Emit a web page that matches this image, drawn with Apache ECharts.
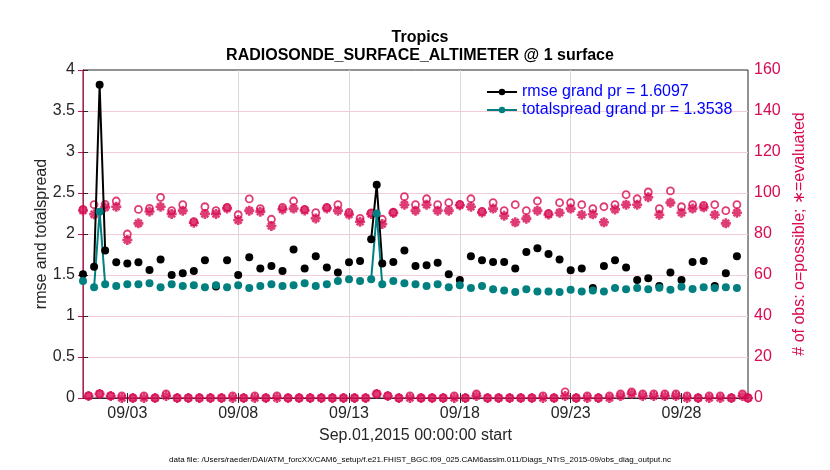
<!DOCTYPE html>
<html>
<head>
<meta charset="utf-8">
<script src="https://cdn.jsdelivr.net/npm/echarts@6/dist/echarts.min.js"></script>
<style>html,body{margin:0;padding:0;background:#fff}#c{width:830px;height:470px}</style>
</head>
<body>
<div id="c"></div>
<script>
// hours since 2015-09-01 00:00 (6-hourly bins)
const hours = [
  0,6,12,18, 24,30,36,42, 48,54,60,66, 72,78,84,90, 96,102,108,114,
  120,126,132,138, 144,150,156,162, 168,174,180,186, 192,198,204,210, 216,222,228,234,
  240,246,252,258, 264,270,276,282, 288,294,300,306, 312,318,324,330, 336,342,348,354,
  360,366,372,378, 384,390,396,402, 408,414,420,426, 432,438,444,450, 456,462,468,474,
  480,486,492,498, 504,510,516,522, 528,534,540,546, 552,558,564,570, 576,582,588,594,
  600,606,612,618, 624,630,636,642, 648,654,660,666, 672,678,684,690, 696,702,708,714,
  720
];
const rmse = [
  1.51,null,1.60,3.82, 1.80,null,1.655,null, 1.64,null,1.655,null, 1.56,null,1.69,null, 1.50,null,1.52,null,
  1.55,null,1.68,null, 1.36,null,1.68,null, 1.50,null,1.715,null, 1.58,null,1.61,null, 1.55,null,1.81,null,
  1.58,null,1.73,null, 1.59,null,1.53,null, 1.655,null,1.67,null, 1.935,2.60,1.64,null, 1.66,null,1.80,null,
  1.61,null,1.62,null, 1.65,null,1.51,null, 1.44,null,1.73,null, 1.68,null,1.66,null, 1.66,null,1.58,null,
  1.78,null,1.825,null, 1.756,null,1.69,null, 1.557,null,1.58,null, 1.34,null,1.61,null, 1.68,null,1.59,null,
  1.44,null,1.46,null, 1.366,null,1.53,null, 1.44,null,1.66,null, 1.67,null,1.366,null, 1.52,null,1.73,null,
  null
];
const totalspread = [
  1.427,null,1.35,2.27, 1.386,null,1.366,null, 1.386,null,1.386,null, 1.40,null,1.35,null, 1.386,null,1.366,null,
  1.375,null,1.35,null, 1.375,null,1.35,null, 1.375,null,1.34,null, 1.366,null,1.386,null, 1.366,null,1.375,null,
  1.40,null,1.366,null, 1.386,null,1.427,null, 1.447,null,1.427,null, 1.447,2.25,1.386,null, 1.427,null,1.40,null,
  1.386,null,1.366,null, 1.386,null,1.35,null, 1.375,null,1.34,null, 1.366,null,1.325,null, 1.31,null,1.293,null,
  1.325,null,1.30,null, 1.30,null,1.293,null, 1.32,null,1.30,null, 1.31,null,1.30,null, 1.34,null,1.325,null,
  1.34,null,1.325,null, 1.345,null,1.32,null, 1.357,null,1.33,null, 1.35,null,1.34,null, 1.35,null,1.34,null,
  null
];
const obsPossible = [
  92,1,94.3,2, 94.5,1,96.1,1, 80,0,92,1, 92.5,0,97.9,2, 91.4,0,94.3,0,
  86,0,93.3,0, 91.4,0,93,1, 89.4,0,97.1,1, 92.4,0,87.2,1, 93,0,96.1,0,
  92,0,90.4,0, 93,0,94.3,0, 90.5,0,87.6,0, 90.3,2,87.2,1, 90.6,0,98.2,1,
  94.3,0,97.2,0, 94.3,0,95.3,1, 94.5,0,97.2,2, 91,0,95.3,0, 91.4,0,94.3,0,
  91.4,0,96.1,1, 90,0,95.3,3, 95.3,0,94.3,1, 92.4,0,93.3,1, 94.3,2,99.2,3,
  97.2,2,100.5,2, 92.4,2,101,2, 93.3,1,94.3,0, 94,1,94.3,1, 91.4,0,94.3,2,
  0
];
const obsEvaluated = [
  91.5,1,89.6,2, 93,1,93.3,0, 77.1,0,85.2,0, 91,0,93.3,1, 89.8,0,91.4,0,
  85.5,0,89.8,0, 89.8,0,92.5,0, 86.8,0,91.4,0, 90.9,0,83.9,0, 92,0,92.4,0,
  91.5,0,87.6,0, 92.5,0,91.4,0, 89.5,0,86,0, 89.8,2,84.9,1, 90.3,0,94.3,0,
  91.4,0,94.3,0, 91.4,0,91.4,0, 94,0,93.3,1, 90.5,0,92.4,0, 88.9,0,85.7,0,
  87.5,0,91.4,0, 89.5,0,90.4,1, 92.4,0,89.4,0, 89.6,0,85.7,0, 92,1,94.3,2,
  94.3,1,97.9,1, 89.4,1,95.3,1, 90.4,0,92.4,0, 93,0,89.4,0, 85.2,0,90.4,1,
  0
];
const tickHours = [48, 168, 288, 408, 528, 648];
const tickLabels = ['09/03', '09/08', '09/13', '09/18', '09/23', '09/28'];
const legendNames = ['rmse grand pr = 1.6097', 'totalspread grand pr = 1.3538'];
const titleText = 'Tropics\nRADIOSONDE_SURFACE_ALTIMETER @ 1 surface';
const xName = 'Sep.01,2015 00:00:00 start';
const yLeftName = 'rmse and totalspread';
const yRightName = '# of obs: o=possible; \u2217=evaluated';
const fileText = 'data file: /Users/raeder/DAI/ATM_forcXX/CAM6_setup/f.e21.FHIST_BGC.f09_025.CAM6assim.011/Diags_NTrS_2015-09/obs_diag_output.nc';

const FONT = '"Liberation Sans", Arial, Helvetica, sans-serif';
const MAG = '#D70A53';
const TEAL = '#008080';
const DARK = '#262626';
const zip = (arr) => hours.map((h, i) => [h, arr[i]]);
const ASTER = 'path://M5,0L5,10M0,5L10,5M1.6,1.6L8.4,8.4M1.6,8.4L8.4,1.6';

const chart = echarts.init(document.getElementById('c'), null, {renderer: 'canvas'});
chart.setOption({
  animation: false,
  backgroundColor: '#fff',
  textStyle: {fontFamily: FONT},
  title: [
    {text: titleText, left: 415, top: 24, textAlign: 'center',
     textStyle: {fontFamily: FONT, fontSize: 16, fontWeight: 'bold', color: '#000', lineHeight: 18}},
    {text: fileText, left: 415, top: 451, textAlign: 'center',
     textStyle: {fontFamily: FONT, fontSize: 8, fontWeight: 'normal', color: '#000'}}
  ],
  grid: {left: 83, right: 82, top: 70, bottom: 72, show: true, borderColor: DARK, borderWidth: 1, backgroundColor: '#fff'},
  legend: {
    data: legendNames, left: 481, top: 79, orient: 'vertical', itemWidth: 30, itemHeight: 8, itemGap: 2,
    textStyle: {color: '#0000FF', fontSize: 16, fontFamily: FONT, lineHeight: 16}
  },
  xAxis: [
    {type: 'value', min: 0, max: 720, position: 'bottom',
     name: xName, nameLocation: 'middle', nameGap: 30,
     nameTextStyle: {fontSize: 16, color: DARK, fontFamily: FONT},
     axisLine: {show: true, lineStyle: {color: DARK, width: 1}},
     axisTick: {show: true, inside: true, length: 5, customValues: tickHours, lineStyle: {color: DARK}},
     axisLabel: {show: true, customValues: tickHours, margin: 8, fontSize: 16, color: DARK, fontFamily: FONT,
       formatter: (v) => tickLabels[tickHours.indexOf(v)] || ''},
     splitLine: {show: true, showMinLine: false, showMaxLine: false, lineStyle: {color: '#D9D9D9', width: 1}}},
    {type: 'value', min: 0, max: 720, position: 'top',
     axisLine: {show: true, lineStyle: {color: DARK, width: 1}},
     axisTick: {show: true, inside: true, length: 5, customValues: tickHours, lineStyle: {color: DARK}},
     axisLabel: {show: false}, splitLine: {show: false}}
  ],
  yAxis: [
    {type: 'value', min: 0, max: 4, interval: 0.5, position: 'left',
     name: yLeftName, nameLocation: 'middle', nameGap: 33, nameRotate: 90, nameMoveOverlap: false,
     nameTextStyle: {fontSize: 16, color: DARK, fontFamily: FONT},
     axisLine: {show: true, lineStyle: {color: DARK}},
     axisTick: {show: true, inside: true, length: 5, lineStyle: {color: DARK}},
     axisLabel: {fontSize: 16, color: DARK, margin: 8, fontFamily: FONT},
     splitLine: {show: false}},
    {type: 'value', min: 0, max: 160, interval: 20, position: 'right',
     name: yRightName, nameLocation: 'middle', nameGap: 38, nameRotate: 90,
     nameTextStyle: {fontSize: 16, color: MAG, fontFamily: FONT},
     axisLine: {show: true, lineStyle: {color: MAG}},
     axisTick: {show: true, inside: true, length: 5, lineStyle: {color: MAG}},
     axisLabel: {fontSize: 16, color: MAG, margin: 6, fontFamily: FONT},
     splitLine: {show: true, showMinLine: false, showMaxLine: false, lineStyle: {color: '#F3CCD9', width: 1}}}
  ],
  series: [
    {name: 'possible', type: 'scatter', yAxisIndex: 1, data: zip(obsPossible), symbol: 'circle', symbolSize: 7,
     itemStyle: {color: 'rgba(255,255,255,0)', borderColor: MAG, borderWidth: 1.8}, z: 3},
    {name: 'evaluated', type: 'scatter', yAxisIndex: 1, data: zip(obsEvaluated), symbol: ASTER, symbolSize: 10,
     itemStyle: {color: 'rgba(255,255,255,0)', borderColor: MAG, borderWidth: 2.6}, z: 3},
    {name: legendNames[0], type: 'line', yAxisIndex: 0, data: zip(rmse), symbol: 'circle', symbolSize: 8,
     showSymbol: true, connectNulls: false, color: '#000',
     lineStyle: {color: '#000', width: 2}, itemStyle: {color: '#000', borderWidth: 0}, z: 4},
    {name: legendNames[1], type: 'line', yAxisIndex: 0, data: zip(totalspread), symbol: 'circle', symbolSize: 8,
     showSymbol: true, connectNulls: false, color: TEAL,
     lineStyle: {color: TEAL, width: 2}, itemStyle: {color: TEAL, borderWidth: 0}, z: 4}
  ]
});
</script>
</body>
</html>
